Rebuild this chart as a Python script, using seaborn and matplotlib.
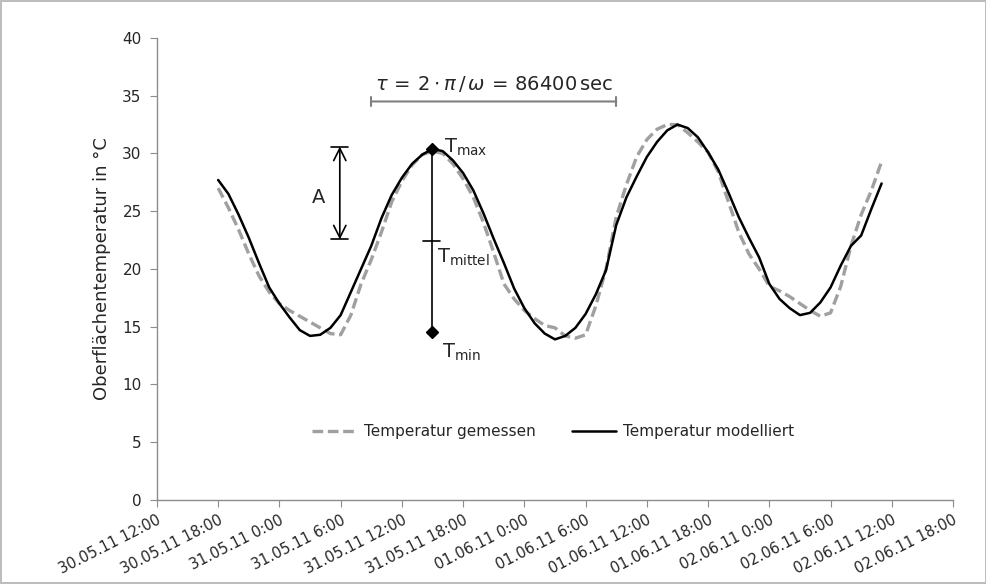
import matplotlib
matplotlib.use("Agg")
import matplotlib.pyplot as plt
import seaborn as sns
import pandas as pd

# hourly values, 30.05.11 18:00 .. 02.06.11 11:00
start_time = "2011-05-30 18:00"
temp_gemessen = [
    27.0, 25.3, 23.4, 21.3, 19.4, 18.0, 17.0, 16.4, 15.9, 15.4, 14.9, 14.4,
    14.3, 16.0, 18.7, 20.8, 23.2, 25.8, 27.6, 29.0, 29.9, 30.2, 30.0, 29.1,
    27.8, 26.2, 24.0, 21.4, 18.7, 17.4, 16.4, 15.7, 15.1, 14.9, 14.2, 14.0,
    14.3, 16.8, 20.0, 24.5, 27.3, 29.7, 31.2, 32.1, 32.5, 32.5, 31.8, 31.0,
    30.1, 28.4, 25.8, 23.2, 21.3, 20.0, 18.5, 18.1, 17.6, 17.0, 16.4, 15.9,
    16.2, 18.5, 22.0, 24.7, 26.8, 29.3,
]
temp_modelliert = [
    27.7, 26.5, 24.7, 22.7, 20.5, 18.4, 17.0, 15.8, 14.7, 14.2, 14.3, 14.9,
    16.0, 18.0, 20.0, 22.0, 24.4, 26.4, 27.9, 29.1, 29.9, 30.4, 30.2, 29.4,
    28.3, 26.8, 24.8, 22.6, 20.5, 18.3, 16.6, 15.3, 14.4, 13.9, 14.2, 14.9,
    16.1, 17.8, 19.9, 23.8, 26.2, 28.0, 29.7, 31.0, 32.0, 32.5, 32.2, 31.4,
    30.1, 28.6, 26.6, 24.5, 22.7, 21.0, 18.7, 17.4, 16.6, 16.0, 16.2, 17.1,
    18.4, 20.3, 22.0, 22.9, 25.2, 27.4,
]

x_start = pd.Timestamp("2011-05-30 12:00")
x_end = pd.Timestamp("2011-06-02 18:00")

# annotation values (°C) and times
t_max, t_mittel, t_min = 30.4, 22.45, 14.5
t_marker = pd.Timestamp("2011-05-31 14:55")
a_time = pd.Timestamp("2011-05-31 05:55")
a_top, a_bottom = 30.6, 22.55
tau_start = pd.Timestamp("2011-05-31 09:00")
tau_end = pd.Timestamp("2011-06-01 09:00")
tau_level = 34.5

times = pd.date_range(start_time, periods=len(temp_gemessen), freq="h")
df = pd.DataFrame({"Zeit": times, "gemessen": temp_gemessen, "modelliert": temp_modelliert})

sns.set_style("white")
plt.rcParams["font.family"] = ["DejaVu Sans"]

fig = plt.figure(figsize=(9.87, 5.84), dpi=100)
fig.patch.set_edgecolor("#BDBDBD")
fig.patch.set_linewidth(1.5)
ax = fig.add_axes([0.159, 0.144, 0.8066, 0.791])

axis_grey = "#8C8C8C"
sns.lineplot(data=df, x="Zeit", y="gemessen", ax=ax, color="#A0A0A0", lw=2.4,
             label="Temperatur gemessen")
ax.lines[-1].set_dashes((3.2, 1.4))
sns.lineplot(data=df, x="Zeit", y="modelliert", ax=ax, color="black", lw=1.8,
             label="Temperatur modelliert")

# tau bracket
ax.annotate("", xy=(tau_start, tau_level), xytext=(tau_end, tau_level),
            arrowprops=dict(arrowstyle="|-|,widthA=0.35,widthB=0.35", color="#808080", lw=1.5,
                            shrinkA=0, shrinkB=0))
tau_mid = tau_start + (tau_end - tau_start) / 2
ax.text(tau_mid, 36.0, r"$\tau\,=\,2\cdot\pi\,/\,\omega\,=\,86400\,\mathrm{sec}$",
        ha="center", va="center", fontsize=14)

# amplitude arrow
ax.annotate("", xy=(a_time, a_top), xytext=(a_time, a_bottom),
            arrowprops=dict(arrowstyle="<->", color="black", lw=1.2,
                            mutation_scale=22, shrinkA=0, shrinkB=0))
half = pd.Timedelta(minutes=50)
ax.plot([a_time - half, a_time + half], [a_top, a_top], color="black", lw=1.2)
ax.plot([a_time - half, a_time + half], [a_bottom, a_bottom], color="black", lw=1.2)
ax.text(a_time - pd.Timedelta(hours=2.1), 26.2, "A", fontsize=14, ha="center", va="center")

# Tmax / Tmittel / Tmin
ax.plot([t_marker, t_marker], [t_min, t_max], color="black", lw=1.2)
ax.plot([t_marker, t_marker], [t_max, t_min], ls="none", marker="D", ms=6, color="black")
ax.plot([t_marker - half, t_marker + half], [t_mittel, t_mittel], color="black", lw=1.2)
ax.text(t_marker + pd.Timedelta(minutes=70), 30.5, r"T$_{\mathregular{max}}$",
        fontsize=14, ha="left", va="center")
ax.text(t_marker + pd.Timedelta(minutes=30), 21.0, r"T$_{\mathregular{mittel}}$",
        fontsize=14, ha="left", va="center")
ax.text(t_marker + pd.Timedelta(minutes=60), 12.8, r"T$_{\mathregular{min}}$",
        fontsize=14, ha="left", va="center")

# axes
ticks = pd.date_range(x_start, x_end, freq="6h")
tick_labels = [f"{t:%d.%m.%y} {t.hour}:{t:%M}" for t in ticks]
ax.set_xlim(x_start, x_end)
ax.set_xticks(ticks)
ax.set_xticklabels(tick_labels, rotation=27, ha="right", rotation_mode="anchor", fontsize=10.5)
ax.set_ylim(0, 40)
ax.set_yticks(range(0, 41, 5))
ax.tick_params(axis="y", labelsize=11, length=5, color=axis_grey, left=True, pad=6)
ax.tick_params(axis="x", length=5, color=axis_grey, bottom=True, pad=4)
ax.set_xlabel("")
ax.set_ylabel("Oberflächentemperatur in °C", fontsize=13, labelpad=8)
sns.despine(ax=ax)
for side in ("left", "bottom"):
    ax.spines[side].set_color(axis_grey)
    ax.spines[side].set_linewidth(1.0)

ax.legend(loc="center", bbox_to_anchor=(0.498, 0.147), ncol=2, frameon=False,
          fontsize=11, handlelength=2.9, columnspacing=2.4, handletextpad=0.45)

fig.savefig("out.png", dpi=100)
